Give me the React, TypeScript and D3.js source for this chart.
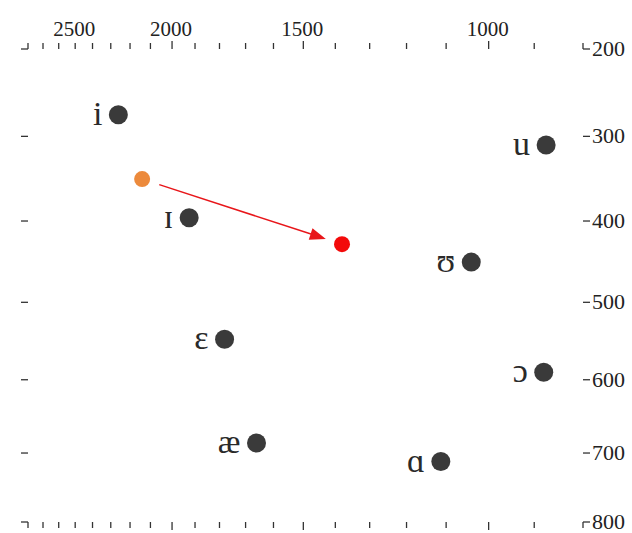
import { useEffect, useRef } from "react";
import * as d3 from "d3";

// vowel formants (Hz)
const VOWELS = ["i", "ɪ", "ɛ", "æ", "ɑ", "ɔ", "ʊ", "u"];
const F1 = [275, 396, 547, 686, 712, 590, 450, 310];
const F2 = [2260, 1925, 1780, 1660, 1113, 880, 1040, 875];

// shifted vowel: start (orange) -> end (red)
const SHIFT_F1 = [350, 428];
const SHIFT_F2 = [2140, 1380];
const SHIFT_COLORS = ["#ec8a3c", "#f30a0a"];

const F2_TICKS = [2800, 2700, 2600, 2500, 2400, 2300, 2200, 2100, 2000, 1900, 1800, 1700, 1600, 1500, 1400, 1300, 1200, 1100, 1000, 900, 800];
const F2_LABELS = [2500, 2000, 1500, 1000];
const F1_TICKS = [200, 300, 400, 500, 600, 700, 800];

// Bark transform (Zwicker form)
const bark = (f: number) => 13 * Math.atan(0.00076 * f) + 3.5 * Math.atan((f / 7500) ** 2);

export default function App() {
  const svgRef = useRef<SVGSVGElement>(null);

  useEffect(() => {
    if (!svgRef.current) return;
    const W = 632, H = 533;
    const svg = d3.select(svgRef.current).attr("width", W).attr("height", H);
    svg.selectAll("*").remove();

    const ink = "#3a3a3a";
    const L = 28, R = 583, T = 49, B = 522;
    const xB = d3.scaleLinear().domain([bark(2800), bark(800)]).range([L, R]);
    const yB = d3.scaleLinear().domain([bark(200), bark(800)]).range([T, B]);
    const x = (f: number) => xB(bark(f));
    const y = (f: number) => yB(bark(f));

    svg.append("rect").attr("width", W).attr("height", H).attr("fill", "#fff");

    const axes = svg.append("g").attr("stroke", "#333").attr("stroke-width", 1.3).attr("fill", "none");
    // x ticks, top (up) and bottom (down)
    F2_TICKS.forEach(f => {
      const major = f % 500 === 0 && f !== 2500 && f !== 800;
      const len = major ? 8 : 6;
      axes.append("line").attr("x1", x(f)).attr("x2", x(f)).attr("y1", T).attr("y2", T - len);
      axes.append("line").attr("x1", x(f)).attr("x2", x(f)).attr("y1", B).attr("y2", B + len);
    });
    // y ticks, left (left) and right (right)
    F1_TICKS.forEach(f => {
      axes.append("line").attr("x1", L).attr("x2", L - 7).attr("y1", y(f)).attr("y2", y(f));
      axes.append("line").attr("x1", R).attr("x2", R + 7).attr("y1", y(f)).attr("y2", y(f));
    });

    const font = "'Liberation Serif', 'DejaVu Serif', serif";
    F2_LABELS.forEach(f => {
      svg.append("text").attr("x", x(f) - 1).attr("y", 36).attr("text-anchor", "middle")
        .attr("font-family", font).attr("font-size", 21).attr("fill", "#222").text(String(f));
    });
    F1_TICKS.forEach(f => {
      svg.append("text").attr("x", R + 9).attr("y", y(f) + 7).attr("font-family", font)
        .attr("font-size", 22).attr("fill", "#222").text(String(f));
    });

    // vowel points
    VOWELS.forEach((v, i) => {
      svg.append("circle").attr("cx", x(F2[i])).attr("cy", y(F1[i])).attr("r", 9.5).attr("fill", ink);
      svg.append("text").attr("x", x(F2[i]) - 16).attr("y", y(F1[i]) + 10).attr("text-anchor", "end")
        .attr("font-family", font).attr("font-size", 34).attr("fill", "#2a2a2a").text(v);
    });

    // arrow
    const p0: [number, number] = [x(SHIFT_F2[0]), y(SHIFT_F1[0])];
    const p1: [number, number] = [x(SHIFT_F2[1]), y(SHIFT_F1[1])];
    const dx = p1[0] - p0[0], dy = p1[1] - p0[1], d = Math.hypot(dx, dy);
    const ux = dx / d, uy = dy / d;
    const s = [p0[0] + ux * 18, p0[1] + uy * 18];
    const tip = [p1[0] - ux * 17, p1[1] - uy * 17];
    const hl = 16, hw = 6;
    const base = [tip[0] - ux * hl, tip[1] - uy * hl];
    svg.append("line").attr("x1", s[0]).attr("y1", s[1]).attr("x2", base[0] + ux * 2).attr("y2", base[1] + uy * 2)
      .attr("stroke", "#e8161a").attr("stroke-width", 1.5);
    svg.append("path")
      .attr("d", `M${tip[0]},${tip[1]}L${base[0] - uy * hw},${base[1] + ux * hw}L${base[0] + uy * hw},${base[1] - ux * hw}Z`)
      .attr("fill", "#e8161a");

    SHIFT_F1.forEach((f1, i) => {
      svg.append("circle").attr("cx", x(SHIFT_F2[i])).attr("cy", y(f1)).attr("r", 8).attr("fill", SHIFT_COLORS[i]);
    });
  }, []);

  return (
    <div style={{ position: "absolute", left: 0, top: 0 }}>
      <svg ref={svgRef} style={{ display: "block" }} />
    </div>
  );
}
